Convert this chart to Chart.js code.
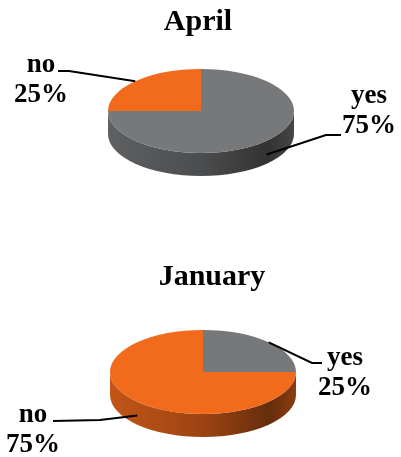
<!DOCTYPE html>
<html>
<head>
<meta charset="utf-8">
<script src="https://cdn.jsdelivr.net/npm/chart.js@4.4.0/dist/chart.umd.min.js"></script>
<style>
  body { margin: 0; background: #fff; }
  canvas { position: absolute; left: 0; }
</style>
</head>
<body>
<canvas id="aprilChart" width="401" height="228" style="top:0"></canvas>
<canvas id="januaryChart" width="401" height="229" style="top:228px"></canvas>
<script>
const categories = ['yes', 'no'];
const aprilValues = [75, 25];
const januaryValues = [25, 75];
const sliceColors = ['#77787a', '#f26a1c'];

function shade(hex, f) {
    const n = parseInt(hex.slice(1), 16);
    const r = Math.round(((n >> 16) & 255) * f);
    const g = Math.round(((n >> 8) & 255) * f);
    const b = Math.round((n & 255) * f);
    return `rgb(${r},${g},${b})`;
}

// flattens the pie into an ellipse and puts a side wall under the front half
const tiltPlugin = {
    id: 'tilt',
    beforeDatasetsDraw(chart, args, opts) {
        const ctx = chart.ctx;
        const arcs = chart.getDatasetMeta(0).data;
        const cx = arcs[0].x, r = arcs[0].outerRadius;
        ctx.save();
        arcs.forEach(arc => {
            const color = arc.options.backgroundColor;
            [0, 2 * Math.PI].forEach(shift => {
                const a1 = Math.max(arc.startAngle, shift);
                const a2 = Math.min(arc.endAngle, shift + Math.PI);
                if (a2 <= a1) return;
                const grad = ctx.createLinearGradient(cx - r, 0, cx + r, 0);
                grad.addColorStop(0, shade(color, 0.8));
                grad.addColorStop(0.5, shade(color, 0.64));
                grad.addColorStop(0.86, shade(color, 0.42));
                grad.addColorStop(1, shade(color, 0.58));
                ctx.beginPath();
                ctx.ellipse(cx, opts.cy, r, opts.ry, 0, a1, a2);
                ctx.ellipse(cx, opts.cy + opts.depth, r, opts.ry, 0, a2, a1, true);
                ctx.closePath();
                ctx.fillStyle = grad;
                ctx.fill();
            });
        });
        ctx.translate(cx, opts.cy);
        ctx.scale(1, opts.ry / r);
        ctx.translate(-cx, -arcs[0].y);
    },
    afterDatasetsDraw(chart) {
        chart.ctx.restore();
    },
    afterDraw(chart, args, opts) {
        const ctx = chart.ctx;
        const meta = chart.getDatasetMeta(0);
        const values = chart.data.datasets[0].data;
        const total = values.reduce((a, b) => a + b, 0);
        ctx.save();
        ctx.fillStyle = '#000';
        ctx.textAlign = 'center';
        ctx.font = 'bold 30px "Liberation Serif", "Times New Roman", serif';
        ctx.fillText(opts.title, opts.titleX, opts.titleY);

        ctx.font = 'bold 27px "Liberation Serif", "Times New Roman", serif';
        meta.data.forEach((arc, i) => {
            const lab = opts.labels[i];
            ctx.fillText(chart.data.labels[i], lab.x, lab.y);
            ctx.fillText(Math.round(values[i] / total * 100) + '%', lab.x, lab.y + 30);

            // leader line ends on the rim at the middle of the slice
            const t = (arc.startAngle + arc.endAngle) / 2;
            const px = arc.x + arc.outerRadius * Math.cos(t);
            let py = opts.cy + opts.ry * Math.sin(t);
            if (Math.sin(t) > 0) py += opts.depth * 0.6;
            ctx.beginPath();
            ctx.moveTo(lab.line[0][0], lab.line[0][1]);
            ctx.lineTo(lab.line[1][0], lab.line[1][1]);
            ctx.lineTo(px, py);
            ctx.strokeStyle = '#000';
            ctx.lineWidth = 2;
            ctx.stroke();
        });
        ctx.restore();
    }
};

function makePie(id, values, padLeft, tilt) {
    return new Chart(document.getElementById(id), {
        type: 'pie',
        data: {
            labels: categories,
            datasets: [{
                data: values,
                backgroundColor: sliceColors,
                borderWidth: 0,
                radius: 93,
                clip: false
            }]
        },
        options: {
            responsive: false,
            animation: false,
            events: [],
            layout: { padding: { left: padLeft } },
            plugins: {
                legend: { display: false },
                tooltip: { enabled: false },
                tilt: tilt
            }
        },
        plugins: [tiltPlugin]
    });
}

makePie('aprilChart', aprilValues, 1, {
    cy: 111, ry: 42, depth: 23,
    title: 'April', titleX: 198, titleY: 30,
    labels: [
        { x: 369, y: 103, line: [[341, 135], [326, 135]] },
        { x: 41, y: 72, line: [[58, 71], [69, 71]] }
    ]
});

makePie('januaryChart', januaryValues, 5, {
    cy: 144, ry: 42, depth: 23,
    title: 'January', titleX: 212, titleY: 57,
    labels: [
        { x: 345, y: 137, line: [[322, 135], [312, 135]] },
        { x: 33, y: 194, line: [[53, 193], [100, 192]] }
    ]
});
</script>
</body>
</html>
